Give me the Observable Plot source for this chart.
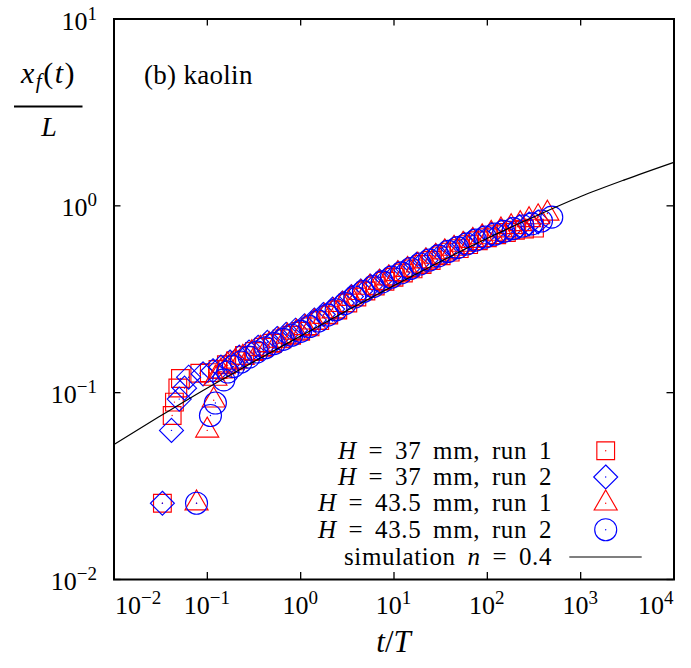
<!DOCTYPE html>
<html>
<head>
<meta charset="utf-8">
<script src="https://cdn.jsdelivr.net/npm/d3@7"></script>
<script src="https://cdn.jsdelivr.net/npm/@observablehq/plot@0.6"></script>
<style>
  body { margin: 0; background: #ffffff; }
  #chart svg { display: block; }
</style>
</head>
<body>
<div id="chart"></div>
<script>
// ---------- tick values ----------
const xTicks = [1e-2, 1e-1, 1e0, 1e1, 1e2, 1e3, 1e4];
const xTickExp = ["\u22122", "\u22121", "0", "1", "2", "3", "4"];
const yTicks = [1e-2, 1e-1, 1e0, 1e1];
const yTickExp = ["\u22122", "\u22121", "0", "1"];

// ---------- series: H = 37 mm, run 1 (red squares) ----------
const s1_t = [0.033, 0.042, 0.0444, 0.0483, 0.0515, 0.083, 0.105, 0.13, 0.16, 0.2, 0.25, 0.32, 0.4, 0.5, 0.63, 0.8, 1.0, 1.26, 1.6, 2.0, 2.5, 3.2, 4.0, 5.0, 6.3, 8.0, 10, 12.6, 16, 20, 25, 32, 40, 50, 63, 80, 100, 126, 160, 200, 250, 320];
const s1_y = [0.0256, 0.0755, 0.089, 0.106, 0.119, 0.127, 0.128, 0.133, 0.141, 0.148, 0.158, 0.166, 0.175, 0.184, 0.194, 0.203, 0.213, 0.225, 0.243, 0.26, 0.277, 0.302, 0.325, 0.35, 0.372, 0.395, 0.415, 0.437, 0.46, 0.485, 0.51, 0.54, 0.565, 0.59, 0.62, 0.65, 0.675, 0.70, 0.72, 0.74, 0.75, 0.76];

// ---------- series: H = 37 mm, run 2 (blue diamonds) ----------
const s2_t = [0.033, 0.0413, 0.050, 0.057, 0.063, 0.09, 0.115, 0.14, 0.175, 0.22, 0.28, 0.35, 0.44, 0.56, 0.7, 0.88, 1.1, 1.4, 1.75, 2.2, 2.8, 3.5, 4.4, 5.6, 7, 8.8, 11, 14, 17.5, 22, 28, 35, 44, 56, 70, 88, 110, 140, 175, 220, 280, 350];
const s2_y = [0.0256, 0.0628, 0.0924, 0.1057, 0.121, 0.126, 0.131, 0.137, 0.146, 0.155, 0.165, 0.175, 0.186, 0.195, 0.205, 0.216, 0.228, 0.245, 0.262, 0.28, 0.302, 0.327, 0.35, 0.372, 0.395, 0.415, 0.437, 0.46, 0.487, 0.512, 0.54, 0.57, 0.595, 0.625, 0.655, 0.68, 0.705, 0.73, 0.75, 0.775, 0.8, 0.82];

// ---------- series: H = 43.5 mm, run 1 (red triangles) ----------
const s3_t = [0.0766, 0.0997, 0.117, 0.122, 0.14, 0.165, 0.2, 0.24, 0.3, 0.37, 0.46, 0.58, 0.72, 0.9, 1.12, 1.4, 1.8, 2.25, 2.8, 3.5, 4.4, 5.5, 7, 8.8, 11, 14, 18, 22, 28, 35, 44, 55, 70, 88, 110, 140, 180, 225, 280, 350, 440];
const s3_y = [0.0256, 0.0628, 0.091, 0.119, 0.13, 0.14, 0.147, 0.154, 0.163, 0.172, 0.18, 0.19, 0.2, 0.21, 0.222, 0.238, 0.255, 0.273, 0.295, 0.318, 0.342, 0.365, 0.388, 0.41, 0.432, 0.455, 0.48, 0.505, 0.535, 0.565, 0.59, 0.62, 0.65, 0.68, 0.71, 0.74, 0.77, 0.8, 0.84, 0.87, 0.91];

// ---------- series: H = 43.5 mm, run 2 (blue circles) ----------
const s4_t = [0.0766, 0.108, 0.122, 0.15, 0.165, 0.19, 0.23, 0.28, 0.34, 0.42, 0.52, 0.65, 0.8, 1.0, 1.25, 1.55, 1.95, 2.4, 3.0, 3.8, 4.7, 6, 7.5, 9.4, 12, 15, 19, 24, 30, 38, 48, 60, 75, 95, 120, 150, 190, 240, 300, 380, 490];
const s4_y = [0.0256, 0.0755, 0.088, 0.117, 0.129, 0.138, 0.146, 0.155, 0.165, 0.174, 0.183, 0.193, 0.203, 0.213, 0.226, 0.242, 0.26, 0.278, 0.3, 0.325, 0.348, 0.37, 0.392, 0.415, 0.438, 0.462, 0.488, 0.513, 0.54, 0.57, 0.598, 0.625, 0.655, 0.68, 0.705, 0.73, 0.755, 0.78, 0.8, 0.83, 0.87];

// ---------- simulation n = 0.4 ----------
const sim_t = [0.01, 0.03, 0.1, 0.3, 1, 3, 10, 30, 100, 300, 1000, 3000, 10000];
const sim_y = [0.0528, 0.0740, 0.106, 0.1445, 0.201, 0.2716, 0.375, 0.4977, 0.670, 0.863, 1.122, 1.382, 1.71];

const legendLabels = [
  ["H", " = 37 mm, run 1"],
  ["H", " = 37 mm, run 2"],
  ["H", " = 43.5 mm, run 1"],
  ["H", " = 43.5 mm, run 2"],
  ["simulation ", "n", " = 0.4"]
];

const rows = (ts, ys) => ts.map((t, i) => ({t, y: ys[i]}));
const d1 = rows(s1_t, s1_y), d2 = rows(s2_t, s2_y), d3r = rows(s3_t, s3_y), d4 = rows(s4_t, s4_y);
const sim = rows(sim_t, sim_y);

const FONT = "Liberation Serif";
const W = 691, H = 668;
const mL = 113.5, mR = 17.5, mT = 18.5, mB = 89;
const plotW = W - mL - mR, plotH = H - mT - mB;
const RED = "#ff0000", BLUE = "#0000ff";
const SW = 1.15;
const R_SQ = 10, R_DI = 10.8, R_TR = 11, R_CI = 11;

function series(data, symbol, r, color) {
  return [
    Plot.dot(data, {x: "t", y: "y", symbol, r, stroke: color, fill: "none", strokeWidth: SW}),
    Plot.dot(data, {x: "t", y: "y", r: 0.7, fill: color, stroke: "none"})
  ];
}

function texts(index, scales, values, dim) {
  const g = d3.create("svg:g").attr("fill", "black")
    .attr("font-family", FONT).attr("text-anchor", "start");
  // x tick labels
  xTicks.forEach((v, i) => {
    const x = scales.x(v);
    const anchor = i === 0 ? "start" : (i === xTicks.length - 1 ? "end" : "middle");
    const t = g.append("text").attr("x", i === 0 ? x + 1.5 : x).attr("y", 614)
      .attr("text-anchor", anchor).attr("font-size", 26);
    t.append("tspan").text("10");
    t.append("tspan").attr("dy", -10).attr("font-size", 19).text(xTickExp[i]);
  });
  // y tick labels
  yTicks.forEach((v, i) => {
    const y = scales.y(v);
    const t = g.append("text").attr("x", 97).attr("y", y + 11)
      .attr("text-anchor", "end").attr("font-size", 26);
    t.append("tspan").text("10");
    t.append("tspan").attr("dy", -10).attr("font-size", 19).text(yTickExp[i]);
  });
  // x axis label
  const xl = g.append("text").attr("x", (mL + W - mR) / 2).attr("y", 652)
    .attr("text-anchor", "middle").attr("font-size", 31);
  xl.append("tspan").attr("font-style", "italic").text("t");
  xl.append("tspan").text("/");
  xl.append("tspan").attr("font-style", "italic").text("T");
  // y axis label (fraction)
  const num = g.append("text").attr("x", 48.5).attr("y", 83)
    .attr("text-anchor", "middle").attr("font-size", 30).attr("letter-spacing", 1.5);
  num.append("tspan").attr("font-style", "italic").text("x");
  num.append("tspan").attr("font-style", "italic").attr("font-size", 21).attr("dy", 5).text("f");
  num.append("tspan").attr("dy", -5).text("(");
  num.append("tspan").attr("font-style", "italic").text("t");
  num.append("tspan").text(")");
  g.append("line").attr("x1", 14).attr("x2", 82.5).attr("y1", 106.5).attr("y2", 106.5)
    .attr("stroke", "black").attr("stroke-width", 1.8);
  g.append("text").attr("x", 49).attr("y", 136).attr("text-anchor", "middle")
    .attr("font-size", 28).attr("font-style", "italic").text("L");
  // panel label
  g.append("text").attr("x", 144).attr("y", 84).attr("text-anchor", "start")
    .attr("font-size", 27).attr("letter-spacing", 0.3).text("(b) kaolin");
  // legend
  const rowY = [450.7, 477, 503.3, 529.7, 557];
  const tx = 552, mx = 605.7;
  legendLabels.forEach((parts, i) => {
    const t = g.append("text").attr("x", tx).attr("y", rowY[i] + 8)
      .attr("text-anchor", "end").attr("font-size", 25)
      .attr("letter-spacing", 0.6).attr("word-spacing", 5);
    parts.forEach(p => {
      const s = t.append("tspan").text(p);
      if (p === "H" || p === "n") s.attr("font-style", "italic");
    });
  });
  const sym = (type, r) => d3.symbol(type, Math.PI * r * r)();
  const lg = g.append("g").attr("fill", "none").attr("stroke-width", SW);
  lg.append("path").attr("transform", `translate(${mx},${rowY[0]})`).attr("d", sym(d3.symbolSquare, R_SQ)).attr("stroke", RED);
  lg.append("path").attr("transform", `translate(${mx},${rowY[1]})`).attr("d", sym(d3.symbolDiamond2, R_DI)).attr("stroke", BLUE);
  lg.append("path").attr("transform", `translate(${mx},${rowY[2]})`).attr("d", sym(d3.symbolTriangle2, R_TR)).attr("stroke", RED);
  lg.append("circle").attr("cx", mx).attr("cy", rowY[3]).attr("r", R_CI).attr("stroke", BLUE);
  [[RED, 0], [BLUE, 1], [RED, 2], [BLUE, 3]].forEach(([c, i]) =>
    g.append("circle").attr("cx", mx).attr("cy", rowY[i]).attr("r", 0.7).attr("fill", c));
  g.append("line").attr("x1", 569.3).attr("x2", 641.7).attr("y1", rowY[4]).attr("y2", rowY[4])
    .attr("stroke", "black").attr("stroke-width", 1.2);
  return g.node();
}

const chart = Plot.plot({
  width: W,
  height: H,
  marginLeft: mL,
  marginRight: mR,
  marginTop: mT,
  marginBottom: mB,
  style: {background: "#ffffff", overflow: "visible"},
  x: {type: "log", domain: [1e-2, 1e4], axis: null},
  y: {type: "log", domain: [1e-2, 1e1], axis: null},
  marks: [
    Plot.ruleX(xTicks, {x: d => d, insetTop: plotH - 7, stroke: "black", strokeWidth: 1.3}),
    Plot.ruleX(xTicks, {x: d => d, insetBottom: plotH - 7, stroke: "black", strokeWidth: 1.3}),
    Plot.ruleY(yTicks, {y: d => d, insetRight: plotW - 7, stroke: "black", strokeWidth: 1.3}),
    Plot.ruleY(yTicks, {y: d => d, insetLeft: plotW - 7, stroke: "black", strokeWidth: 1.3}),
    ...series(d1, "square", R_SQ, RED),
    ...series(d2, "diamond2", R_DI, BLUE),
    ...series(d3r, "triangle2", R_TR, RED),
    ...series(d4, "circle", R_CI, BLUE),
    Plot.line(sim, {x: "t", y: "y", curve: "monotone-x", stroke: "black", strokeWidth: 1.2}),
    Plot.frame({stroke: "black", strokeWidth: 2}),
    texts
  ]
});
document.getElementById("chart").appendChild(chart);
</script>
</body>
</html>
